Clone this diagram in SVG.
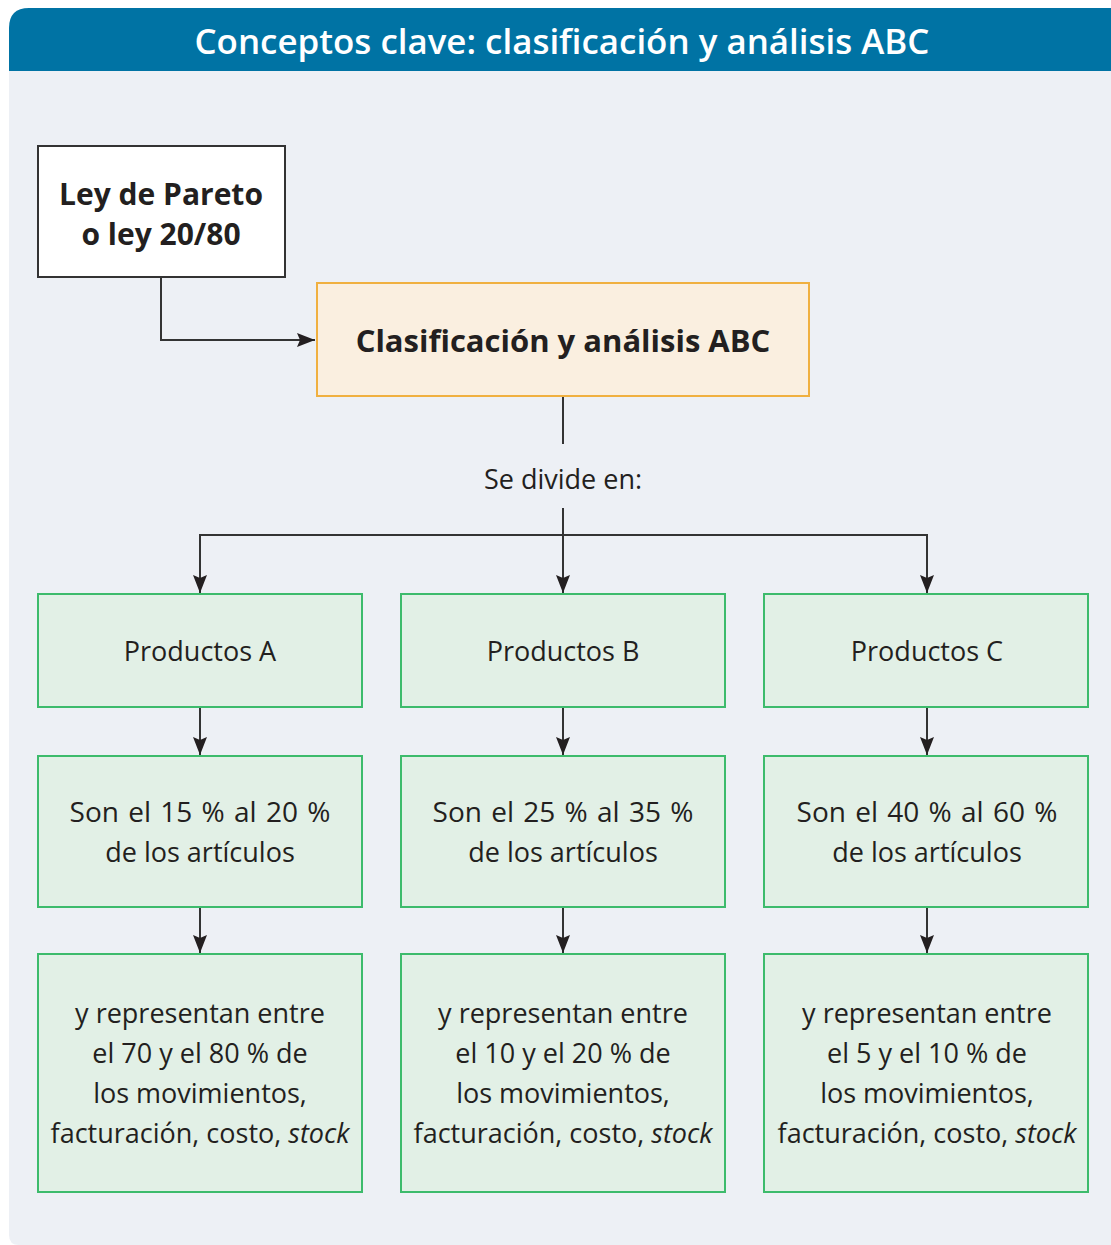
<svg xmlns="http://www.w3.org/2000/svg" width="1111" height="1245" viewBox="0 0 1111 1245">
<style>
.t{font-family:"Open Sans","Noto Sans",sans-serif;fill:#231f20;text-anchor:middle}
.n{font-size:27px}
.p{font-size:28px;word-spacing:2px}
.b{font-size:30px;font-weight:bold}
.g{fill:#e2f0e6;stroke:#3dbb6c;stroke-width:2}
.c{fill:none;stroke:#333;stroke-width:2}
</style>
<defs>
<marker id="ah" viewBox="0 0 18 14" refX="18" refY="7" markerWidth="18" markerHeight="14" markerUnits="userSpaceOnUse" orient="auto">
<path d="M0,0 L18,7 L0,14 L3,7 Z" fill="#231f20"/>
</marker>
</defs>
<rect width="1111" height="1245" fill="#fff"/>
<g id="panel">
<path d="M9,71 H1111 V1245 H19 Q9,1245 9,1235 Z" fill="#edf0f5"/>
<path d="M9,71 V28 Q9,8 29,8 H1111 V71 Z" fill="#0073a4"/>
<text x="562" y="54" class="t" style="fill:#fff;font-size:35px;font-weight:600" textLength="735" lengthAdjust="spacingAndGlyphs">Conceptos clave: clasificación y análisis ABC</text>
</g>
<g id="connectors">
<path class="c" d="M161,277 V340 H315" marker-end="url(#ah)"/>
<path class="c" d="M563,396 V444"/>
<path class="c" d="M563,508 V593" marker-end="url(#ah)"/>
<path class="c" d="M200,593 V535 H927 V593" marker-end="url(#ah)"/>
<path class="c" d="M200,535 V593" marker-end="url(#ah)"/>
<path class="c" d="M200,707 V755" marker-end="url(#ah)"/>
<path class="c" d="M563,707 V755" marker-end="url(#ah)"/>
<path class="c" d="M927,707 V755" marker-end="url(#ah)"/>
<path class="c" d="M200,907 V953" marker-end="url(#ah)"/>
<path class="c" d="M563,907 V953" marker-end="url(#ah)"/>
<path class="c" d="M927,907 V953" marker-end="url(#ah)"/>
<text x="563" y="489" class="t n">Se divide en:</text>
</g>
<g id="pareto">
<rect x="38" y="146" width="247" height="131" fill="#fff" stroke="#333" stroke-width="2"/>
<text x="161" y="205" class="t b">Ley de Pareto</text>
<text x="161" y="245" class="t b">o ley 20/80</text>
</g>
<g id="abc">
<rect x="317" y="283" width="492" height="113" fill="#faefe0" stroke="#f0b040" stroke-width="2"/>
<text x="563" y="352" class="t b" style="font-size:31px">Clasificación y análisis ABC</text>
</g>
<g id="prodA"><rect class="g" x="38" y="594" width="324" height="113"/><text x="200" y="661" class="t n">Productos A</text></g>
<g id="prodB"><rect class="g" x="401" y="594" width="324" height="113"/><text x="563" y="661" class="t n">Productos B</text></g>
<g id="prodC"><rect class="g" x="764" y="594" width="324" height="113"/><text x="927" y="661" class="t n">Productos C</text></g>
<g id="pctA"><rect class="g" x="38" y="756" width="324" height="151"/><text x="200" y="822" class="t p">Son el 15 % al 20 %</text><text x="200" y="862" class="t n">de los artículos</text></g>
<g id="pctB"><rect class="g" x="401" y="756" width="324" height="151"/><text x="563" y="822" class="t p">Son el 25 % al 35 %</text><text x="563" y="862" class="t n">de los artículos</text></g>
<g id="pctC"><rect class="g" x="764" y="756" width="324" height="151"/><text x="927" y="822" class="t p">Son el 40 % al 60 %</text><text x="927" y="862" class="t n">de los artículos</text></g>
<g id="repA"><rect class="g" x="38" y="954" width="324" height="238"/>
<text x="200" y="1023" class="t n">y representan entre</text><text x="200" y="1063" class="t n">el 70 y el 80 % de</text><text x="200" y="1103" class="t n">los movimientos,</text><text x="200" y="1143" class="t n">facturación, costo, <tspan font-style="italic">stock</tspan></text></g>
<g id="repB"><rect class="g" x="401" y="954" width="324" height="238"/>
<text x="563" y="1023" class="t n">y representan entre</text><text x="563" y="1063" class="t n">el 10 y el 20 % de</text><text x="563" y="1103" class="t n">los movimientos,</text><text x="563" y="1143" class="t n">facturación, costo, <tspan font-style="italic">stock</tspan></text></g>
<g id="repC"><rect class="g" x="764" y="954" width="324" height="238"/>
<text x="927" y="1023" class="t n">y representan entre</text><text x="927" y="1063" class="t n">el 5 y el 10 % de</text><text x="927" y="1103" class="t n">los movimientos,</text><text x="927" y="1143" class="t n">facturación, costo, <tspan font-style="italic">stock</tspan></text></g>
</svg>
